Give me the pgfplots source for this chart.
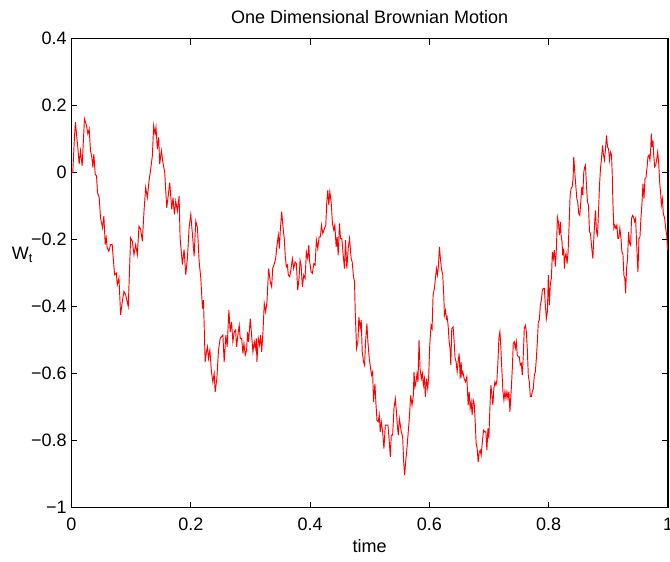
\documentclass[border=0pt]{standalone}
\usepackage{fontspec}
\setmainfont{Liberation Sans}
\usepackage{pgfplots}
\pgfplotsset{compat=1.18}
\begin{document}
\fontsize{13.5}{16}\selectfont
\begin{tikzpicture}
\path[use as bounding box] (-53.6pt,-40.1pt) rectangle (448.9pt,380.65pt);
\begin{axis}[
  at={(0,0)}, anchor=south west,
  scale only axis, width=447.4pt, height=351.75pt,
  xmin=0, xmax=1, ymin=-1, ymax=0.4,
  xtick={0,0.2,0.4,0.6,0.8,1},
  xticklabels={0,0.2,0.4,0.6,0.8,1},
  ytick={-1,-0.8,-0.6,-0.4,-0.2,0,0.2,0.4},
  yticklabels={−1,−0.8,−0.6,−0.4,−0.2,0,0.2,0.4},
  tick align=inside, tick pos=both,
  major tick length=4.5pt,
  every tick/.style={black, line width=0.6pt},
  axis line style={black, line width=0.9pt},
  tick label style={font=\fontsize{13.5}{16}\selectfont},
  xticklabel style={inner sep=0pt, yshift=-7.9pt},
  yticklabel style={inner sep=0pt, xshift=-3.4pt},
  title={One Dimensional Brownian Motion},
  title style={font=\fontsize{13.5}{16}\selectfont, inner sep=0pt, at={(axis description cs:0.5,1)}, anchor=base, yshift=4.9pt},
  xlabel={time},
  xlabel style={font=\fontsize{13.5}{16}\selectfont, inner sep=0pt, at={(axis description cs:0.5,0)}, anchor=base, yshift=-33.4pt},
  ylabel={W\textsubscript{t}},
  ylabel style={font=\fontsize{13.5}{16}\selectfont, rotate=-90, inner sep=0pt, at={(axis description cs:0,0.529)}, anchor=base east, xshift=-28.6pt},
  /pgf/number format/assume math mode=true,
]
\addplot[red, line width=0.7pt] coordinates {
(0,0) (0.0022,0) (0.005,0.105) (0.0067,0.15) (0.0084,0.115) (0.0106,0.075) (0.0129,0.025) (0.0151,0.065) (0.0179,0.02) (0.0218,0.16) (0.0252,0.14) (0.0275,0.115) (0.0297,0.13) (0.0319,0.065) (0.0342,0.045) (0.0359,0.015) (0.0375,0.055) (0.0398,-0.005) (0.042,-0.01) (0.0437,-0.06) (0.0465,-0.075) (0.0487,-0.135) (0.0521,-0.165) (0.0543,-0.13) (0.0566,-0.215) (0.0583,-0.195) (0.0599,-0.225) (0.0627,-0.235) (0.0655,-0.215) (0.0683,-0.215) (0.07,-0.255) (0.0723,-0.305) (0.0751,-0.3) (0.0768,-0.335) (0.0796,-0.315) (0.0824,-0.425) (0.0852,-0.385) (0.088,-0.355) (0.0908,-0.365) (0.0952,-0.4) (0.0992,-0.195) (0.102,-0.205) (0.1048,-0.245) (0.1076,-0.215) (0.1104,-0.245) (0.1132,-0.16) (0.116,-0.17) (0.1188,-0.205) (0.1216,-0.115) (0.1244,-0.045) (0.1272,-0.075) (0.13,-0.025) (0.1328,0.01) (0.1356,0.05) (0.1378,0.14) (0.1401,0.115) (0.1417,0.135) (0.144,0.07) (0.1462,0.105) (0.1479,0.025) (0.1507,0.065) (0.1529,0.035) (0.1563,0.0) (0.1597,-0.105) (0.1625,-0.065) (0.1647,-0.03) (0.1681,-0.11) (0.1703,-0.075) (0.1725,-0.125) (0.1748,-0.085) (0.1776,-0.115) (0.1804,-0.07) (0.1821,-0.195) (0.186,-0.275) (0.1888,-0.23) (0.1916,-0.305) (0.1944,-0.255) (0.1972,-0.165) (0.2,-0.125) (0.2028,-0.185) (0.2056,-0.25) (0.2084,-0.145) (0.2112,-0.165) (0.214,-0.265) (0.2168,-0.315)
(0.2196,-0.406) (0.2213,-0.381) (0.2241,-0.565) (0.2263,-0.535) (0.228,-0.52) (0.2297,-0.555) (0.232,-0.53) (0.2347,-0.595) (0.237,-0.625) (0.2392,-0.6) (0.2409,-0.655) (0.2437,-0.615) (0.2465,-0.53) (0.2493,-0.495) (0.2515,-0.49) (0.2538,-0.485) (0.256,-0.565) (0.2588,-0.485) (0.261,-0.52) (0.2639,-0.411) (0.2661,-0.476) (0.2683,-0.446) (0.2706,-0.505) (0.2728,-0.476) (0.2751,-0.47) (0.2768,-0.52) (0.279,-0.485) (0.2812,-0.456) (0.2829,-0.495) (0.2852,-0.495) (0.2874,-0.54) (0.2891,-0.51) (0.2913,-0.545) (0.2936,-0.53) (0.2952,-0.476) (0.2969,-0.505) (0.2997,-0.436) (0.3019,-0.485) (0.3042,-0.535) (0.3064,-0.505) (0.3081,-0.525) (0.3098,-0.495) (0.3109,-0.565) (0.3132,-0.495) (0.3154,-0.515) (0.3171,-0.485) (0.3188,-0.535) (0.321,-0.476) (0.3232,-0.391) (0.3255,-0.416) (0.3277,-0.386) (0.3305,-0.287) (0.3333,-0.326) (0.3356,-0.341) (0.3373,-0.287) (0.3401,-0.272) (0.3423,-0.257) (0.3445,-0.217) (0.3468,-0.187) (0.3485,-0.227) (0.3501,-0.172) (0.3524,-0.117) (0.3546,-0.162) (0.3569,-0.202) (0.3585,-0.252) (0.3602,-0.281) (0.3619,-0.276) (0.3636,-0.306) (0.3658,-0.311) (0.3681,-0.287) (0.3703,-0.257) (0.3725,-0.287) (0.3748,-0.267) (0.377,-0.272) (0.3793,-0.351) (0.3815,-0.316) (0.3832,-0.262) (0.3849,-0.276) (0.3871,-0.341) (0.3894,-0.306) (0.3916,-0.316) (0.3938,-0.237) (0.3961,-0.257) (0.3978,-0.217) (0.3994,-0.267) (0.4017,-0.296) (0.4039,-0.301) (0.4062,-0.272) (0.4084,-0.276) (0.4106,-0.202) (0.4129,-0.227) (0.4151,-0.192) (0.4174,-0.192) (0.419,-0.157) (0.4213,-0.182) (0.4241,-0.167) (0.4263,-0.157) (0.428,-0.087) (0.4297,-0.053) (0.4314,-0.097) (0.4331,-0.058) (0.4353,-0.087) (0.4375,-0.152) (0.4398,-0.172) (0.4415,-0.157) (0.4437,-0.222) (0.4454,-0.192) (0.4471,-0.247) (0.4493,-0.152) (0.451,-0.197) (0.4532,-0.197) (0.4555,-0.247) (0.4577,-0.287) (0.4594,-0.202) (0.4616,-0.287) (0.4639,-0.227) (0.4661,-0.197) (0.4689,-0.257) (0.4706,-0.267) (0.4728,-0.311) (0.4745,-0.326)
(0.4756,-0.411) (0.4779,-0.525) (0.4801,-0.505) (0.4818,-0.431) (0.484,-0.466) (0.4857,-0.441) (0.4874,-0.535) (0.4896,-0.565) (0.4913,-0.575) (0.493,-0.505) (0.4952,-0.451) (0.4969,-0.505) (0.4992,-0.555) (0.5014,-0.585) (0.5031,-0.605) (0.5048,-0.595) (0.5064,-0.685) (0.5087,-0.63) (0.5104,-0.69) (0.5121,-0.739) (0.5143,-0.744) (0.516,-0.724) (0.5176,-0.774) (0.5193,-0.744) (0.5216,-0.774) (0.5238,-0.824) (0.5261,-0.754) (0.5283,-0.754) (0.5305,-0.754) (0.5328,-0.804) (0.5345,-0.849) (0.5361,-0.784) (0.5384,-0.784) (0.5406,-0.705) (0.5429,-0.675) (0.5445,-0.709) (0.5462,-0.754) (0.5479,-0.784) (0.5496,-0.734) (0.5513,-0.754) (0.5529,-0.774) (0.5552,-0.789) (0.5569,-0.864) (0.5585,-0.903) (0.5602,-0.864) (0.5619,-0.834) (0.5641,-0.784) (0.5664,-0.734) (0.5686,-0.665) (0.5709,-0.695) (0.5731,-0.665) (0.5742,-0.595) (0.5759,-0.64) (0.5776,-0.625) (0.5793,-0.6) (0.5809,-0.625) (0.5826,-0.5) (0.5843,-0.585) (0.5866,-0.615) (0.5882,-0.6) (0.5899,-0.635) (0.5916,-0.615) (0.5933,-0.67) (0.595,-0.615) (0.5972,-0.645) (0.5989,-0.605) (0.6006,-0.515) (0.6028,-0.456) (0.6045,-0.466) (0.6062,-0.366) (0.6084,-0.346) (0.6101,-0.316) (0.6118,-0.287) (0.6134,-0.306) (0.6151,-0.281) (0.6168,-0.222) (0.6185,-0.257) (0.6202,-0.287) (0.6224,-0.306) (0.6241,-0.366) (0.6252,-0.426) (0.6269,-0.411) (0.6286,-0.436) (0.6297,-0.431) (0.6314,-0.456) (0.6331,-0.505) (0.6347,-0.525) (0.6359,-0.575) (0.6375,-0.466) (0.6398,-0.461) (0.6415,-0.505) (0.6431,-0.555) (0.6448,-0.565) (0.6465,-0.595) (0.6482,-0.565) (0.6499,-0.54) (0.6516,-0.615) (0.6532,-0.565)
(0.6543,-0.605) (0.656,-0.595) (0.6583,-0.615) (0.6605,-0.625) (0.6627,-0.61) (0.665,-0.695) (0.6667,-0.654) (0.6683,-0.704) (0.67,-0.684) (0.6717,-0.724) (0.6734,-0.679) (0.6751,-0.689) (0.6768,-0.744) (0.6784,-0.809) (0.6801,-0.824) (0.6818,-0.864) (0.6835,-0.834) (0.6852,-0.829) (0.6868,-0.844) (0.6885,-0.809) (0.6908,-0.769) (0.693,-0.774) (0.6947,-0.774) (0.6964,-0.829) (0.6981,-0.764) (0.6997,-0.794) (0.7014,-0.704) (0.7031,-0.635) (0.7048,-0.664) (0.7064,-0.694) (0.7081,-0.645) (0.7098,-0.625) (0.7115,-0.635) (0.7132,-0.62) (0.7149,-0.565) (0.7165,-0.495) (0.7182,-0.475) (0.7199,-0.525) (0.7216,-0.595) (0.7233,-0.654) (0.7249,-0.679) (0.7266,-0.654) (0.7283,-0.674) (0.73,-0.654) (0.7317,-0.674) (0.7333,-0.654) (0.735,-0.714) (0.7373,-0.645) (0.739,-0.585) (0.7406,-0.51) (0.7423,-0.505) (0.744,-0.525) (0.7457,-0.505) (0.7473,-0.545) (0.749,-0.55) (0.7507,-0.55) (0.7524,-0.575) (0.7541,-0.57) (0.7557,-0.605) (0.7574,-0.545) (0.7591,-0.465) (0.7608,-0.456) (0.7625,-0.475) (0.7641,-0.525) (0.7658,-0.605) (0.7675,-0.625) (0.7692,-0.669) (0.7709,-0.669) (0.7725,-0.654) (0.7742,-0.645) (0.7759,-0.605) (0.7776,-0.595) (0.7793,-0.555) (0.781,-0.505) (0.7826,-0.446) (0.7843,-0.44) (0.786,-0.396) (0.7877,-0.381) (0.7894,-0.351) (0.791,-0.346) (0.7927,-0.346) (0.7944,-0.396) (0.7961,-0.436) (0.7978,-0.416) (0.7994,-0.306) (0.8011,-0.396) (0.8028,-0.331) (0.8045,-0.316) (0.8062,-0.237) (0.8078,-0.257) (0.8095,-0.232) (0.8112,-0.281) (0.8129,-0.227)
(0.8146,-0.133) (0.8162,-0.147) (0.8179,-0.187) (0.8196,-0.147) (0.8207,-0.187) (0.8224,-0.207) (0.8235,-0.247) (0.8252,-0.227) (0.8263,-0.287) (0.8275,-0.252) (0.8291,-0.242) (0.8308,-0.272) (0.8325,-0.237) (0.8342,-0.157) (0.8359,-0.068) (0.8375,-0.048) (0.8392,-0.043) (0.8409,-0.018) (0.842,0.047) (0.8437,0.002) (0.8454,-0.038) (0.8471,-0.078) (0.8487,-0.088) (0.8504,-0.123) (0.8521,-0.128) (0.8538,-0.088) (0.8555,-0.043) (0.8571,-0.068) (0.8588,0.002) (0.8605,0.017) (0.8616,0.022) (0.8633,-0.038) (0.865,-0.088) (0.8667,-0.098) (0.8684,-0.177) (0.87,-0.182) (0.8717,-0.217) (0.874,-0.257) (0.8756,-0.197) (0.8773,-0.142) (0.8784,-0.113) (0.8801,-0.177) (0.8818,-0.187) (0.8835,-0.118) (0.8852,-0.038) (0.8868,0.012) (0.8885,0.042) (0.8902,0.081) (0.8919,0.052) (0.8936,0.037) (0.8952,0.071) (0.8969,0.111) (0.8986,0.076) (0.9003,0.071) (0.902,0.037) (0.9036,0.061) (0.9053,0.052) (0.9064,0.002) (0.9076,-0.088) (0.9092,-0.167) (0.9109,-0.157) (0.9126,-0.167) (0.9143,-0.157) (0.916,-0.197) (0.9176,-0.197) (0.9193,-0.167) (0.921,-0.192) (0.9227,-0.237) (0.9244,-0.242) (0.9261,-0.307) (0.9277,-0.317) (0.9289,-0.361) (0.9305,-0.287) (0.9322,-0.257) (0.9339,-0.177) (0.9356,-0.212) (0.9373,-0.217) (0.9389,-0.137) (0.9406,-0.128) (0.9423,-0.133) (0.944,-0.147) (0.9457,-0.137) (0.9468,-0.187) (0.9485,-0.257) (0.9496,-0.297) (0.9513,-0.197) (0.953,-0.192) (0.9546,-0.137) (0.9563,-0.093) (0.958,-0.033) (0.9597,-0.078) (0.9614,-0.018) (0.963,-0.016) (0.9647,0.012) (0.9664,0.047) (0.9681,0.052) (0.9697,0.037) (0.9709,0.066) (0.972,0.116) (0.9731,0.076) (0.9748,0.096) (0.9759,0.056) (0.9776,0.017) (0.9793,0.022) (0.9809,0.037) (0.9826,0.061) (0.9843,0.032) (0.986,-0.028) (0.9877,-0.063) (0.9888,-0.098) (0.9905,-0.078) (0.9922,-0.123) (0.9944,-0.137) (0.9961,-0.167) (0.9978,-0.187) (0.9994,-0.232) (1,-0.22)
};
\end{axis}
\end{tikzpicture}
\end{document}
